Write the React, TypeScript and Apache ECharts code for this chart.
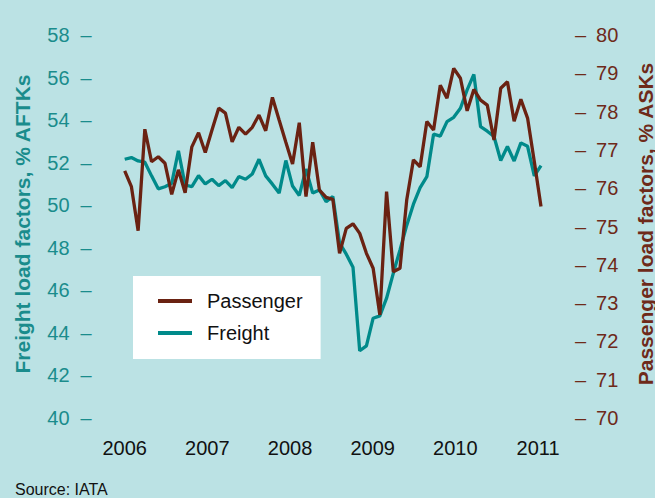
import { useEffect, useRef } from "react";
import * as echarts from "echarts";

const months = [
  "Jan 2006", "Feb 2006", "Mar 2006", "Apr 2006", "May 2006", "Jun 2006", "Jul 2006", "Aug 2006", "Sep 2006", "Oct 2006", "Nov 2006", "Dec 2006",
  "Jan 2007", "Feb 2007", "Mar 2007", "Apr 2007", "May 2007", "Jun 2007", "Jul 2007", "Aug 2007", "Sep 2007", "Oct 2007", "Nov 2007", "Dec 2007",
  "Jan 2008", "Feb 2008", "Mar 2008", "Apr 2008", "May 2008", "Jun 2008", "Jul 2008", "Aug 2008", "Sep 2008", "Oct 2008", "Nov 2008", "Dec 2008",
  "Jan 2009", "Feb 2009", "Mar 2009", "Apr 2009", "May 2009", "Jun 2009", "Jul 2009", "Aug 2009", "Sep 2009", "Oct 2009", "Nov 2009", "Dec 2009",
  "Jan 2010", "Feb 2010", "Mar 2010", "Apr 2010", "May 2010", "Jun 2010", "Jul 2010", "Aug 2010", "Sep 2010", "Oct 2010", "Nov 2010", "Dec 2010",
  "Jan 2011", "Feb 2011", "Mar 2011",
];

// Passenger load factors, % ASKs (right axis)
const passenger = [
  76.45, 76.04, 74.89, 77.54, 76.69, 76.82, 76.65, 75.84, 76.48, 75.88, 77.08, 77.45,
  76.93, 77.52, 78.09, 77.96, 77.21, 77.59, 77.41, 77.59, 77.91, 77.5, 78.37, 77.78,
  77.2, 76.63, 77.71, 75.78, 77.2, 75.95, 75.76, 75.71, 74.3, 74.95, 75.07, 74.82,
  74.3, 73.91, 72.69, 75.91, 73.82, 73.91, 75.69, 76.74, 76.56, 77.74, 77.52, 78.69,
  78.35, 79.13, 78.87, 78.02, 78.58, 78.3, 78.17, 77.26, 78.61, 78.78, 77.75, 78.32,
  77.83, 76.7, 75.52,
];

// Freight load factors, % AFTKs (left axis)
const freight = [
  52.16, 52.24, 52.08, 52.02, 51.38, 50.77, 50.87, 51.03, 52.56, 50.95, 50.87, 51.39,
  51.0, 51.22, 50.92, 51.16, 50.83, 51.35, 51.22, 51.47, 52.16, 51.38, 50.99, 50.57,
  52.1, 50.9, 50.46, 51.7, 50.57, 50.72, 50.17, 50.41, 48.23, 47.7, 47.09, 43.16,
  43.39, 44.69, 44.8, 45.63, 46.8, 47.9, 49.05, 50.05, 50.83, 51.34, 53.34, 53.25,
  53.93, 54.13, 54.56, 55.42, 56.15, 53.69, 53.48, 53.23, 52.1, 52.76, 52.08, 52.93,
  52.77, 51.38, 51.86,
];

const yearTicks = [2006, 2007, 2008, 2009, 2010, 2011];

const TEAL = "#008a8a";
const TEAL_TEXT = "#1a8c8c";
const BROWN = "#6a2212";
const BROWN_TEXT = "#6e2a1a";
const FONT = "'Liberation Sans', Arial, Helvetica, sans-serif";

export default function App() {
  const ref = useRef<HTMLDivElement>(null);

  useEffect(() => {
    if (!ref.current) return;
    const chart = echarts.init(ref.current, null, { renderer: "svg" });
    chart.setOption({
      animation: false,
      backgroundColor: "#bbe2e4",
      textStyle: { fontFamily: FONT },
      grid: { left: 124.7, right: 114, top: 35, bottom: 80 },
      legend: {
        data: ["Passenger", "Freight"],
        orient: "vertical",
        left: 133,
        top: 276,
        backgroundColor: "#ffffff",
        padding: [15, 18, 16, 25],
        itemWidth: 34,
        itemHeight: 4,
        itemGap: 12,
        icon: "rect",
        selectedMode: false,
        textStyle: {
          fontSize: 20,
          color: "#111111",
          fontFamily: FONT,
          lineHeight: 20,
          padding: [0, 0, 0, 10],
        },
      },
      xAxis: [
        {
          type: "category",
          data: months,
          boundaryGap: false,
          show: false,
        },
        {
          type: "value",
          min: yearTicks[0],
          max: 2011.036,
          interval: 1,
          position: "bottom",
          axisLine: { show: false },
          axisTick: { show: false },
          splitLine: { show: false },
          axisLabel: {
            margin: 20,
            fontSize: 20,
            color: "#111111",
            fontFamily: FONT,
            showMaxLabel: false,
            formatter: (v: number) =>
              yearTicks.indexOf(Math.round(v * 1000) / 1000) >= 0 ? String(Math.round(v)) : "",
          },
        },
      ],
      yAxis: [
        {
          type: "value",
          min: 40,
          max: 58,
          interval: 2,
          position: "left",
          axisLine: { show: false },
          axisTick: { show: false },
          splitLine: { show: false },
          axisLabel: {
            margin: 33,
            fontSize: 20,
            color: TEAL_TEXT,
            fontFamily: FONT,
            formatter: (v: number) => `{n|${v}}{d|–}`,
            rich: {
              n: { fontSize: 20, color: TEAL_TEXT, fontFamily: FONT },
              d: { fontSize: 20, color: TEAL_TEXT, fontFamily: FONT, padding: [0, 0, 0, 11] },
            },
          },
        },
        {
          type: "value",
          min: 70,
          max: 80,
          interval: 1,
          position: "right",
          axisLine: { show: false },
          axisTick: { show: false },
          splitLine: { show: false },
          axisLabel: {
            margin: 34,
            fontSize: 20,
            color: BROWN_TEXT,
            fontFamily: FONT,
            formatter: (v: number) => `{d|–}{n|${v}}`,
            rich: {
              d: { fontSize: 20, color: BROWN_TEXT, fontFamily: FONT },
              n: { fontSize: 20, color: BROWN_TEXT, fontFamily: FONT, padding: [0, 0, 0, 10] },
            },
          },
        },
      ],
      series: [
        {
          name: "Freight",
          type: "line",
          xAxisIndex: 0,
          yAxisIndex: 0,
          data: freight,
          symbol: "none",
          color: TEAL,
          lineStyle: { color: TEAL, width: 3.3 },
          z: 2,
        },
        {
          name: "Passenger",
          type: "line",
          xAxisIndex: 0,
          yAxisIndex: 1,
          data: passenger,
          symbol: "none",
          color: BROWN,
          lineStyle: { color: BROWN, width: 3.3 },
          z: 3,
        },
      ],
      graphic: [
        {
          type: "text",
          x: 22,
          y: 224,
          rotation: Math.PI / 2,
          style: {
            text: "Freight load factors, % AFTKs",
            fontSize: 21,
            fontWeight: "bold",
            fontFamily: FONT,
            fill: TEAL_TEXT,
            align: "center",
            verticalAlign: "middle",
          },
        },
        {
          type: "text",
          x: 645,
          y: 224,
          rotation: Math.PI / 2,
          style: {
            text: "Passenger load factors, % ASKs",
            fontSize: 21,
            fontWeight: "bold",
            fontFamily: FONT,
            fill: BROWN_TEXT,
            align: "center",
            verticalAlign: "middle",
          },
        },
        {
          type: "text",
          left: 15,
          top: 481,
          style: {
            text: "Source: IATA",
            fontSize: 16,
            fontFamily: FONT,
            fill: "#111111",
          },
        },
      ],
    });
    return () => chart.dispose();
  }, []);

  return (
    <div
      ref={ref}
      style={{ position: "fixed", left: 0, top: 0, width: 655, height: 498 }}
    />
  );
}
